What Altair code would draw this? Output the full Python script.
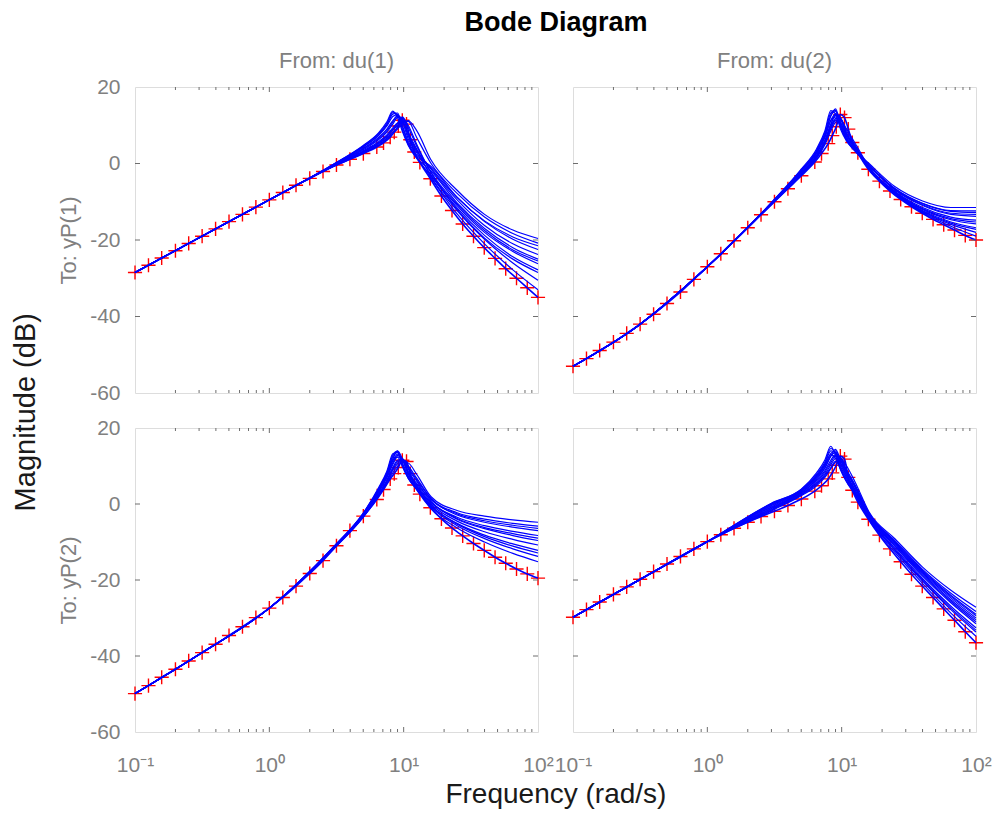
import altair as alt
import pandas as pd

# ---------------- data ----------------
COL_TITLES = ["From: du(1)", "From: du(2)"]
ROW_TITLES = ["To: yP(1)", "To: yP(2)"]
X_TICKS = [0.1, 1, 10, 100]
Y_TICKS = [20, 0, -20, -40, -60]
X_MAJOR_INNER = [1, 10]
X_MINOR = [0.2, 0.3, 0.4, 0.5, 0.6, 0.7, 0.8, 0.9,
           2, 3, 4, 5, 6, 7, 8, 9,
           20, 30, 40, 50, 60, 70, 80, 90]
Y_INNER = [0, -20, -40]

# frequencies of the nominal model (red + markers)
FREQ = [0.1, 0.126, 0.158, 0.2, 0.251, 0.316, 0.398, 0.501, 0.631, 0.794,
        1.0, 1.26, 1.58, 2.0, 2.51, 3.16, 3.98, 5.01, 6.31, 7.08,
        7.94, 8.51, 9.12, 9.77, 10.5, 11.2, 12.0, 13.2, 15.8, 19.1,
        22.9, 27.5, 33.1, 39.8, 47.9, 57.5, 69.2, 83.2, 100.0]

NOM_11 = [-28.5, -26.6, -24.7, -22.8, -20.9, -19.0, -17.1, -15.2, -13.3, -11.4,
          -9.5, -7.6, -5.7, -3.9, -2.1, -0.4, 1.1, 2.6, 4.3, 5.4,
          6.9, 8.2, 9.8, 11.3, 10.3, 6.2, 3.0, 0.3, -4.0, -8.5,
          -12.3, -15.8, -19.0, -22.0, -24.8, -27.5, -30.0, -32.5, -35.0]
NOM_12 = [-53.0, -51.0, -48.9, -46.7, -44.4, -42.0, -39.4, -36.6, -33.6, -30.3,
          -27.0, -23.6, -20.2, -16.8, -13.4, -10.0, -6.6, -3.2, 0.4, 2.6,
          5.2, 7.3, 9.6, 12.8, 12.0, 9.0, 5.5, 2.8, -1.5, -4.6,
          -7.2, -9.4, -11.3, -13.0, -14.6, -16.0, -17.4, -18.8, -20.0]
NOM_21 = [-49.9, -47.8, -45.6, -43.5, -41.3, -39.1, -36.9, -34.6, -32.3, -29.9,
          -27.4, -24.6, -21.6, -18.3, -14.9, -11.0, -7.0, -3.2, 1.2, 3.8,
          6.6, 8.0, 9.6, 11.5, 11.2, 8.0, 5.0, 2.6, -1.0, -3.9,
          -6.3, -8.4, -10.4, -12.2, -14.0, -15.6, -17.1, -18.4, -19.5]
NOM_22 = [-29.8, -27.8, -25.8, -23.8, -21.8, -19.8, -17.8, -15.8, -13.8, -11.8,
          -9.9, -8.1, -6.4, -4.8, -3.3, -1.9, -0.4, 1.3, 3.4, 4.8,
          6.6, 8.2, 10.2, 12.6, 11.8, 7.0, 3.6, 0.5, -4.0, -8.2,
          -11.8, -15.2, -18.5, -21.6, -24.6, -27.6, -30.6, -33.6, -36.5]

# frequencies of the sampled (uncertain) models, blue lines
GRID = [0.1, 0.3, 1, 3, 5, 6.5, 7.5, 8.3, 9, 9.8, 10.8, 12.5, 16, 25, 40, 65, 100]

BLUE_11 = [
    [-28.5, -19.4, -9.5, -0.2, 4.6, 7.8, 10.5, 13.3, 12.8, 8.8, 5.0, 1.5, -2.0, -10.3, -17.0, -22.0, -25.0],
    [-28.5, -19.4, -9.5, -0.3, 4.3, 7.3, 9.8, 12.3, 12.8, 9.8, 5.8, 2.2, -0.8, -8.8, -15.2, -19.8, -22.5],
    [-28.5, -19.4, -9.5, -0.4, 4.0, 6.8, 9.0, 11.2, 12.3, 10.8, 6.5, 2.8, -3.0, -11.6, -18.8, -24.4, -27.8],
    [-28.5, -19.4, -9.5, -0.5, 3.6, 6.2, 8.2, 10.3, 12.0, 12.0, 7.8, 3.5, -1.5, -9.5, -16.2, -21.0, -23.8],
    [-28.5, -19.4, -9.5, -0.6, 3.3, 5.7, 7.5, 9.3, 10.6, 10.8, 8.0, 3.8, -3.4, -12.3, -19.8, -26.0, -30.5],
    [-28.5, -19.4, -9.5, -0.7, 3.0, 5.2, 7.0, 8.7, 10.0, 11.8, 10.0, 5.0, -2.5, -11.0, -18.0, -23.0, -26.2],
    [-28.5, -19.4, -9.5, -0.7, 2.8, 4.9, 6.6, 8.2, 9.4, 11.0, 11.0, 6.8, 0.0, -7.8, -14.0, -18.3, -20.8],
    [-28.5, -19.4, -9.5, -0.8, 2.7, 4.7, 6.3, 7.8, 9.0, 10.4, 11.2, 8.6, 0.9, -7.0, -13.3, -17.4, -19.6],
    [-28.5, -19.4, -9.5, -0.3, 4.4, 7.5, 10.1, 12.9, 13.2, 9.5, 5.3, 1.8, -3.8, -13.2, -21.0, -27.8, -33.0],
    [-28.5, -19.4, -9.5, -0.4, 3.8, 6.5, 8.6, 10.8, 12.5, 11.4, 7.2, 3.2, -1.2, -8.9, -15.0, -19.2, -21.5],
    [-28.5, -19.4, -9.5, -0.2, 4.7, 8.0, 10.9, 13.7, 12.0, 8.3, 4.8, 1.3, -3.2, -12.0, -19.5, -25.0, -28.5],
    [-28.5, -19.4, -9.5, -0.6, 3.1, 5.4, 7.2, 9.0, 10.5, 12.2, 9.5, 4.5, -2.3, -10.6, -17.5, -22.6, -25.5],
]
BLUE_12 = [
    [-53.0, -42.6, -27.0, -10.2, -1.5, 3.8, 8.5, 13.8, 13.0, 9.0, 6.0, 3.3, -0.6, -7.0, -11.0, -13.3, -13.8],
    [-53.0, -42.6, -27.0, -10.3, -1.8, 3.2, 7.6, 12.5, 13.6, 10.0, 6.6, 3.6, 0.0, -6.1, -9.8, -11.5, -11.5],
    [-53.0, -42.6, -27.0, -10.4, -2.1, 2.6, 6.8, 11.3, 13.0, 10.8, 7.2, 4.0, -1.1, -7.6, -12.0, -14.7, -15.8],
    [-53.0, -42.6, -27.0, -10.5, -2.4, 2.2, 6.1, 10.3, 12.6, 11.5, 7.8, 4.3, -0.3, -6.6, -10.5, -12.5, -12.8],
    [-53.0, -42.6, -27.0, -10.6, -2.7, 1.8, 5.5, 9.4, 11.8, 11.8, 8.2, 4.6, -1.5, -8.0, -12.6, -15.9, -18.0],
    [-53.0, -42.6, -27.0, -10.7, -3.0, 1.4, 4.9, 8.5, 10.8, 11.4, 9.2, 5.5, -0.9, -7.3, -11.5, -14.0, -14.8],
    [-53.0, -42.6, -27.0, -10.4, -2.0, 2.8, 7.2, 12.4, 14.3, 10.4, 6.8, 3.8, -1.3, -7.8, -12.3, -15.3, -16.8],
    [-53.0, -42.6, -27.0, -10.5, -2.6, 1.9, 5.7, 9.6, 11.4, 10.7, 7.6, 4.2, -1.6, -8.2, -12.8, -16.4, -19.0],
    [-53.0, -42.6, -27.0, -10.3, -1.9, 2.9, 7.0, 11.2, 12.2, 9.8, 6.3, 3.5, -0.5, -6.8, -10.8, -13.0, -13.3],
    [-53.0, -42.6, -27.0, -10.3, -1.7, 3.4, 8.0, 13.2, 13.9, 9.6, 6.3, 3.5, -0.4, -6.6, -10.4, -12.3, -12.4],
    [-53.0, -42.6, -27.0, -10.5, -2.5, 2.0, 5.9, 10.0, 12.9, 12.0, 8.0, 4.5, -1.0, -7.5, -11.8, -14.4, -15.3],
    [-53.0, -42.6, -27.0, -10.6, -2.8, 1.6, 5.2, 9.0, 11.3, 11.6, 8.7, 5.0, -1.4, -7.9, -12.5, -15.6, -17.2],
]
BLUE_21 = [
    [-49.9, -39.6, -27.4, -11.9, -3.5, 2.0, 5.4, 8.2, 9.9, 11.0, 10.8, 7.8, 1.9, -1.7, -3.2, -4.2, -4.8],
    [-49.9, -39.6, -27.4, -11.8, -3.4, 2.3, 5.8, 8.9, 10.6, 11.4, 10.0, 6.8, 1.5, -2.3, -4.0, -5.1, -5.8],
    [-49.9, -39.6, -27.4, -11.7, -3.2, 2.6, 6.3, 9.6, 11.5, 11.8, 9.2, 6.0, 0.7, -3.5, -5.7, -7.2, -8.3],
    [-49.9, -39.6, -27.4, -11.6, -3.0, 3.0, 6.9, 10.4, 12.4, 12.0, 8.6, 5.4, 1.1, -2.9, -4.8, -6.1, -7.0],
    [-49.9, -39.6, -27.4, -11.5, -2.8, 3.4, 7.4, 11.3, 13.1, 11.6, 8.0, 4.8, 0.0, -4.5, -7.3, -9.3, -10.8],
    [-49.9, -39.6, -27.4, -11.4, -2.6, 3.8, 8.0, 12.3, 13.6, 10.8, 7.4, 4.3, 0.3, -4.0, -6.5, -8.3, -9.6],
    [-49.9, -39.6, -27.4, -11.3, -2.4, 4.3, 8.6, 13.2, 13.6, 9.8, 6.8, 3.8, -0.8, -5.7, -9.1, -11.8, -13.8],
    [-49.9, -39.6, -27.4, -11.4, -2.5, 3.8, 7.9, 11.6, 12.3, 10.0, 6.8, 4.0, -1.2, -6.3, -10.0, -13.0, -15.2],
    [-49.9, -39.6, -27.4, -11.5, -2.8, 3.3, 7.5, 11.8, 14.0, 11.8, 7.9, 4.6, -0.4, -5.1, -8.2, -10.5, -12.2],
    [-49.9, -39.6, -27.4, -11.5, -2.9, 3.2, 7.1, 10.8, 12.8, 11.9, 8.3, 5.1, 0.5, -3.8, -6.2, -7.8, -9.0],
    [-49.9, -39.6, -27.4, -11.3, -2.5, 4.0, 8.3, 12.8, 13.9, 10.3, 7.0, 4.0, -0.5, -5.3, -8.6, -11.1, -12.9],
    [-49.9, -39.6, -27.4, -11.7, -3.3, 2.4, 6.0, 9.2, 11.1, 11.6, 9.6, 6.4, 1.3, -2.6, -4.4, -5.6, -6.4],
]
BLUE_22 = [
    [-29.8, -20.3, -9.9, -1.8, 2.2, 4.8, 7.0, 9.3, 11.0, 12.0, 10.2, 6.0, -2.1, -9.2, -16.6, -22.7, -27.2],
    [-29.8, -20.3, -9.9, -1.4, 2.5, 5.5, 7.8, 10.3, 12.0, 12.2, 9.2, 5.2, -2.4, -9.7, -17.2, -23.5, -28.3],
    [-29.8, -20.3, -9.9, -1.0, 2.9, 6.2, 8.8, 11.5, 13.0, 11.8, 8.4, 4.5, -3.0, -10.7, -18.4, -25.2, -30.5],
    [-29.8, -20.3, -9.9, -0.6, 3.2, 6.8, 9.6, 12.6, 13.6, 11.0, 7.6, 3.8, -2.7, -10.2, -17.8, -24.3, -29.4],
    [-29.8, -20.3, -9.9, -0.2, 3.6, 7.5, 10.6, 14.0, 13.6, 10.0, 6.8, 3.2, -3.6, -11.7, -19.6, -26.9, -32.6],
    [-29.8, -20.3, -9.9, 0.2, 3.9, 8.2, 11.6, 15.2, 12.8, 9.0, 6.0, 2.5, -4.2, -12.8, -20.9, -28.7, -34.8],
    [-29.8, -20.3, -9.9, 0.0, 3.5, 7.3, 10.2, 13.0, 12.0, 9.2, 6.2, 2.8, -3.9, -12.3, -20.3, -27.8, -33.7],
    [-29.8, -20.3, -9.9, -0.8, 3.0, 6.5, 9.4, 12.6, 14.4, 11.6, 8.0, 4.0, -3.3, -11.2, -19.0, -26.0, -31.5],
    [-29.8, -20.3, -9.9, -1.6, 2.4, 5.2, 7.4, 9.6, 11.2, 11.3, 9.0, 5.0, -2.6, -10.0, -17.5, -24.0, -29.0],
    [-29.8, -20.3, -9.9, -0.4, 3.4, 7.1, 10.1, 13.3, 14.0, 10.6, 7.2, 3.5, -3.1, -11.0, -18.7, -25.6, -31.0],
    [-29.8, -20.3, -9.9, -1.2, 2.7, 5.8, 8.3, 10.9, 12.6, 12.1, 8.8, 4.8, -2.8, -10.4, -18.1, -24.7, -30.0],
    [-29.8, -20.3, -9.9, 0.1, 3.8, 7.8, 11.0, 14.6, 13.2, 9.5, 6.3, 2.9, -3.8, -12.1, -20.0, -27.4, -33.2],
]

# ---------------- styling ----------------
FONT = "Liberation Sans"
GRAY = "#808080"
FRAME = "#6e6e6e"
BLUE = "#0000ff"
RED = "#ff0000"
PW = 403

Y_LABEL_EXPR = "datum.value < 0 ? '-' + abs(datum.value) : '' + datum.value"
X_LABEL_EXPR = ("datum.value < 0.5 ? '10⁻¹' : datum.value < 5 ? '10⁰' : "
                "datum.value < 50 ? '10¹' : '10²'")


def make_panel(nom, blue, h, col_title=None, title_offset=0, row_title=None, show_x=False):
    xs = alt.Scale(type="log", domain=[0.1, 100], nice=False)
    ys = alt.Scale(domain=[-60, 20], nice=False)
    if show_x:
        xaxis = alt.Axis(values=X_TICKS, title=None, grid=False, ticks=False, domain=False,
                         labelExpr=X_LABEL_EXPR,
                         labelFontSize=21, labelColor=GRAY, labelFont=FONT, labelPadding=22,
                         labelFlush=False, labelOverlap=False)
    else:
        xaxis = None
    if row_title:
        yaxis = alt.Axis(values=Y_TICKS, title=row_title, grid=False, ticks=False, domain=False,
                         labelExpr=Y_LABEL_EXPR,
                         labelFontSize=21, labelColor=GRAY, labelFont=FONT, labelPadding=15,
                         labelFlush=False, labelOverlap=False,
                         titleFontSize=22, titleColor=GRAY, titleFont=FONT,
                         titleFontWeight="normal", titlePadding=9)
    else:
        yaxis = None

    X = alt.X("f:Q", scale=xs, axis=xaxis)
    Y = alt.Y("db:Q", scale=ys, axis=yaxis)

    rows = []
    for i, row in enumerate(blue):
        for f, v in zip(GRID, row):
            rows.append({"f": f, "db": v, "c": i})
    bdf = pd.DataFrame(rows)
    ndf = pd.DataFrame({"f": FREQ, "db": nom})

    red = alt.Chart(ndf).mark_point(shape="M-1,0L1,0M0,-1L0,1", size=200, filled=False,
                                    stroke=RED, strokeWidth=1.4, opacity=1).encode(x=X, y=Y)
    blines = alt.Chart(bdf).mark_line(color=BLUE, strokeWidth=1.2, interpolate="monotone").encode(
        x=X, y=Y, detail="c:N")
    nline = alt.Chart(ndf).mark_line(color=BLUE, strokeWidth=1.6, interpolate="monotone").encode(x=X, y=Y)

    xminor = pd.DataFrame({"f": X_MINOR})
    xmajor = pd.DataFrame({"f": X_MAJOR_INNER})
    yin = pd.DataFrame({"db": Y_INNER})
    tick_style = dict(color=FRAME, strokeWidth=1)
    t1 = alt.Chart(xminor).mark_rule(**tick_style).encode(x=X, y=alt.value(h), y2=alt.value(h - 3))
    t2 = alt.Chart(xminor).mark_rule(**tick_style).encode(x=X, y=alt.value(0), y2=alt.value(3))
    t3 = alt.Chart(xmajor).mark_rule(**tick_style).encode(x=X, y=alt.value(h), y2=alt.value(h - 5))
    t4 = alt.Chart(xmajor).mark_rule(**tick_style).encode(x=X, y=alt.value(0), y2=alt.value(5))
    t5 = alt.Chart(yin).mark_rule(**tick_style).encode(y=Y, x=alt.value(0), x2=alt.value(5))
    t6 = alt.Chart(yin).mark_rule(**tick_style).encode(y=Y, x=alt.value(PW), x2=alt.value(PW - 5))

    layer = alt.layer(red, blines, nline, t1, t2, t3, t4, t5, t6).properties(width=PW, height=h)
    if col_title:
        layer = layer.properties(title=alt.TitleParams(col_title, fontSize=22, color=GRAY, font=FONT,
                                                       fontWeight="normal", anchor="middle",
                                                       frame="group", offset=title_offset))
    return layer


p11 = make_panel(NOM_11, BLUE_11, 306, col_title=COL_TITLES[0], title_offset=3, row_title=ROW_TITLES[0])
p12 = make_panel(NOM_12, BLUE_12, 306, col_title=COL_TITLES[1], title_offset=14)
p21 = make_panel(NOM_21, BLUE_21, 304, row_title=ROW_TITLES[1], show_x=True)
p22 = make_panel(NOM_22, BLUE_22, 304, show_x=True)

grid = alt.concat(p11, p12, p21, p22, columns=2, spacing=35, bounds="flush").resolve_scale(
    x="independent", y="independent").properties(
    title=alt.TitleParams("Magnitude (dB)", orient="left", fontSize=29, color="#1a1a1a",
                          font=FONT, fontWeight="normal", anchor="middle", offset=16))
mid = alt.vconcat(grid).properties(
    title=alt.TitleParams("Frequency  (rad/s)", orient="bottom", fontSize=28, color="#1a1a1a",
                          font=FONT, fontWeight="normal", anchor="middle", offset=5, dx=54))
chart = alt.vconcat(mid).properties(
    title=alt.TitleParams("Bode Diagram", fontSize=27, color="#000000", font=FONT,
                          fontWeight="bold", anchor="middle", offset=12, dx=54),
    padding={"left": 4, "top": 1, "right": 0, "bottom": 0},
).configure_view(stroke=FRAME, strokeWidth=1.4).configure(font=FONT)

chart.save("out.html", embed_options={"renderer": "svg", "actions": False})
